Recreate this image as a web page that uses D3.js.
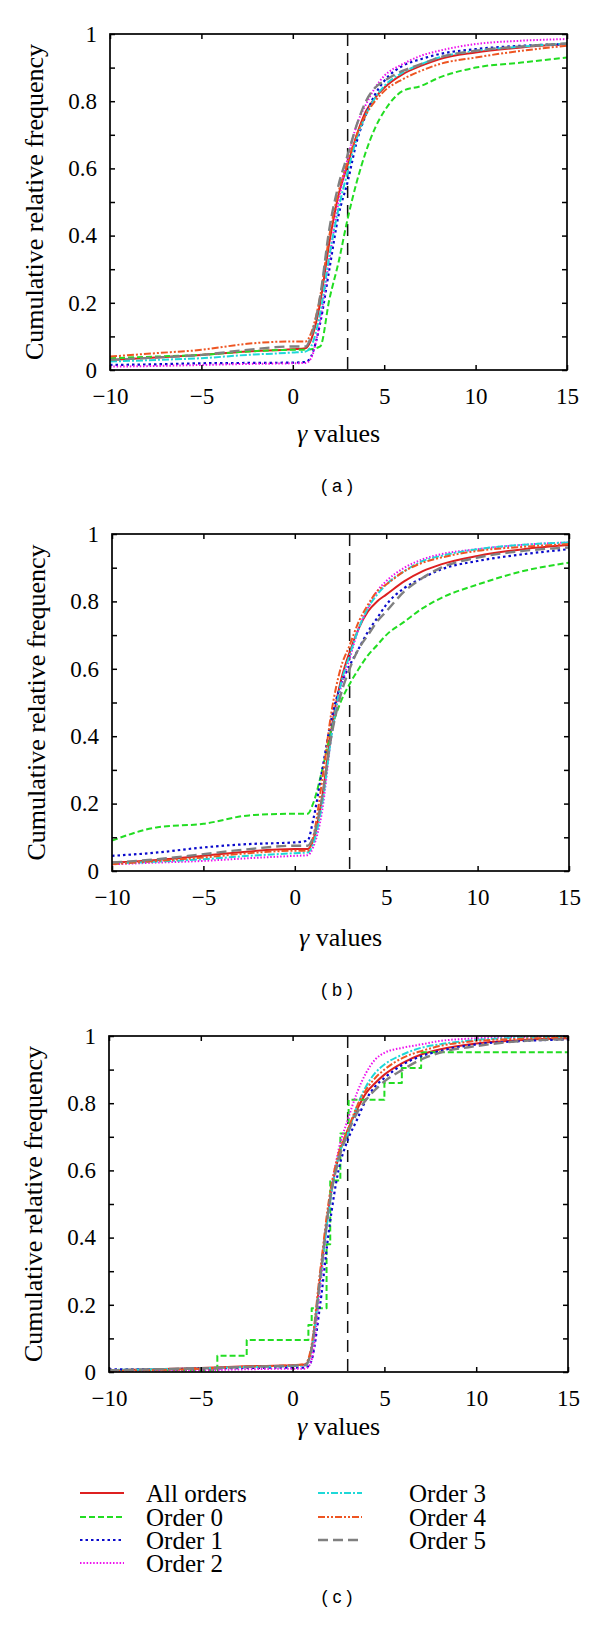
<!DOCTYPE html>
<html><head><meta charset="utf-8">
<script src="https://cdn.jsdelivr.net/npm/d3@7"></script>
<style>body{margin:0;background:#fff} svg{display:block}</style>
</head><body><svg id="chart" width="600" height="1627"></svg>
<script>
// ---------- DATA ----------
const seriesNames = ["All orders", "Order 0", "Order 1", "Order 2", "Order 3", "Order 4", "Order 5"];
const gammaGrid = [-10, -7.5, -5, -2.5, 0, 0.7, 1, 1.5, 2, 2.5, 3, 3.5, 4, 4.5, 5, 6, 7, 8, 10, 12.5, 15];
const xTicks = [-10, -5, 0, 5, 10, 15];
const yTicks = [0, 0.1, 0.2, 0.3, 0.4, 0.5, 0.6, 0.7, 0.8, 0.9, 1];
const yTickLabels = ["0", "", "0.2", "", "0.4", "", "0.6", "", "0.8", "", "1"];
const thresholdGamma = 3;
const panelCaptions = ["( a )", "( b )", "( c )"];

// panel (a)
const a_all = [0.03, 0.037, 0.045, 0.055, 0.062, 0.065, 0.09, 0.2, 0.38, 0.52, 0.61, 0.7, 0.77, 0.81, 0.84, 0.88, 0.905, 0.925, 0.945, 0.96, 0.97];
const a_o0  = [0.035, 0.04, 0.045, 0.055, 0.06, 0.06, 0.062, 0.07, 0.21, 0.32, 0.45, 0.56, 0.65, 0.72, 0.77, 0.83, 0.845, 0.87, 0.9, 0.915, 0.93];
const a_o1  = [0.015, 0.017, 0.02, 0.021, 0.022, 0.024, 0.04, 0.14, 0.3, 0.46, 0.56, 0.68, 0.76, 0.82, 0.86, 0.905, 0.925, 0.94, 0.955, 0.965, 0.97];
const a_o2  = [0.01, 0.012, 0.015, 0.018, 0.02, 0.021, 0.035, 0.15, 0.33, 0.5, 0.63, 0.73, 0.79, 0.84, 0.875, 0.91, 0.935, 0.95, 0.97, 0.98, 0.985];
const a_o3  = [0.025, 0.03, 0.035, 0.045, 0.052, 0.055, 0.07, 0.17, 0.34, 0.48, 0.59, 0.69, 0.76, 0.81, 0.845, 0.885, 0.91, 0.93, 0.95, 0.962, 0.972];
const a_o4  = [0.04, 0.05, 0.06, 0.078, 0.085, 0.085, 0.11, 0.22, 0.4, 0.53, 0.62, 0.7, 0.76, 0.8, 0.83, 0.865, 0.89, 0.91, 0.93, 0.95, 0.965];
const a_o5  = [0.03, 0.037, 0.045, 0.06, 0.07, 0.07, 0.1, 0.22, 0.42, 0.55, 0.64, 0.73, 0.8, 0.84, 0.86, 0.89, 0.91, 0.93, 0.95, 0.963, 0.972];

// panel (b)
const b_all = [0.025, 0.033, 0.045, 0.058, 0.065, 0.065, 0.09, 0.22, 0.42, 0.56, 0.65, 0.72, 0.77, 0.8, 0.82, 0.86, 0.89, 0.91, 0.935, 0.955, 0.967];
const b_o0  = [0.09, 0.13, 0.14, 0.165, 0.17, 0.17, 0.2, 0.3, 0.42, 0.5, 0.555, 0.6, 0.64, 0.67, 0.7, 0.74, 0.78, 0.81, 0.85, 0.89, 0.915];
const b_o1  = [0.045, 0.055, 0.07, 0.08, 0.085, 0.09, 0.15, 0.3, 0.45, 0.55, 0.61, 0.66, 0.71, 0.75, 0.79, 0.84, 0.87, 0.895, 0.92, 0.94, 0.955];
const b_o2  = [0.02, 0.025, 0.03, 0.038, 0.045, 0.047, 0.07, 0.18, 0.4, 0.54, 0.63, 0.72, 0.78, 0.83, 0.86, 0.9, 0.925, 0.94, 0.955, 0.968, 0.975];
const b_o3  = [0.022, 0.028, 0.035, 0.045, 0.053, 0.055, 0.08, 0.2, 0.4, 0.55, 0.64, 0.72, 0.78, 0.82, 0.85, 0.89, 0.92, 0.935, 0.955, 0.968, 0.975];
const b_o4  = [0.02, 0.03, 0.04, 0.053, 0.06, 0.06, 0.1, 0.27, 0.47, 0.6, 0.67, 0.74, 0.79, 0.83, 0.85, 0.89, 0.915, 0.93, 0.95, 0.962, 0.97];
const b_o5  = [0.025, 0.035, 0.05, 0.065, 0.075, 0.075, 0.1, 0.22, 0.4, 0.52, 0.6, 0.66, 0.7, 0.74, 0.77, 0.83, 0.87, 0.9, 0.93, 0.95, 0.96];

// panel (c)
const c_all = [0.005, 0.008, 0.012, 0.017, 0.02, 0.022, 0.06, 0.28, 0.5, 0.64, 0.72, 0.78, 0.83, 0.86, 0.885, 0.92, 0.945, 0.96, 0.978, 0.988, 0.993];
const c_o0_gamma = [-10, -4.1, -2.5, 0.86, 1.04, 1.85, 2.05, 2.6, 3.05, 5.0, 5.95, 7.0, 15];
const c_o0_freq  = [0.005, 0.048, 0.095, 0.14, 0.19, 0.38, 0.57, 0.71, 0.81, 0.86, 0.905, 0.952, 0.952];
const c_o1  = [0.008, 0.008, 0.01, 0.012, 0.013, 0.013, 0.03, 0.2, 0.43, 0.6, 0.69, 0.75, 0.81, 0.85, 0.875, 0.915, 0.94, 0.955, 0.975, 0.985, 0.99];
const c_o2  = [0.003, 0.004, 0.005, 0.008, 0.01, 0.01, 0.03, 0.25, 0.5, 0.66, 0.75, 0.83, 0.89, 0.93, 0.95, 0.965, 0.975, 0.985, 0.993, 0.997, 1.0];
const c_o3  = [0.006, 0.008, 0.011, 0.015, 0.018, 0.02, 0.06, 0.27, 0.49, 0.64, 0.71, 0.79, 0.85, 0.89, 0.915, 0.945, 0.965, 0.975, 0.988, 0.995, 0.998];
const c_o4  = [0.004, 0.006, 0.01, 0.016, 0.02, 0.024, 0.07, 0.3, 0.52, 0.65, 0.72, 0.79, 0.84, 0.875, 0.9, 0.935, 0.955, 0.97, 0.985, 0.992, 0.995];
const c_o5  = [0.005, 0.008, 0.011, 0.015, 0.019, 0.021, 0.06, 0.28, 0.5, 0.63, 0.71, 0.77, 0.81, 0.84, 0.865, 0.9, 0.93, 0.95, 0.97, 0.985, 0.99];

// ---------- STYLE / LAYOUT ----------
const styles = [
  {color: "#dd2020", dash: null, width: 2},
  {color: "#22dd22", dash: "6,3", width: 2},
  {color: "#0a0acc", dash: "2.5,3", width: 2.2},
  {color: "#ee10ee", dash: "1.5,1.8", width: 2},
  {color: "#1ed8d8", dash: "7,2,2,2", width: 2},
  {color: "#ee5522", dash: "7,2,2,2,2,2", width: 2},
  {color: "#808080", dash: "10,5", width: 2.4}
];
const serif = "'Liberation Serif', 'Times New Roman', serif";
const sans = "'Liberation Sans', Arial, sans-serif";

const zip = (xs, ys) => xs.map((x, i) => ({x, y: ys[i]}));
const panels = [
  {left: 110, right: 567, top: 34, bottom: 370, titleY: 442, capY: 492,
   series: [a_all, a_o0, a_o1, a_o2, a_o3, a_o4, a_o5].map(v => ({pts: zip(gammaGrid, v), step: false}))},
  {left: 112, right: 569, top: 534, bottom: 871, titleY: 946, capY: 996,
   series: [b_all, b_o0, b_o1, b_o2, b_o3, b_o4, b_o5].map(v => ({pts: zip(gammaGrid, v), step: false}))},
  {left: 109, right: 568, top: 1036, bottom: 1372, titleY: 1435, capY: 1603,
   series: [
     {pts: zip(gammaGrid, c_all), step: false},
     {pts: zip(c_o0_gamma, c_o0_freq), step: true},
     {pts: zip(gammaGrid, c_o1), step: false},
     {pts: zip(gammaGrid, c_o2), step: false},
     {pts: zip(gammaGrid, c_o3), step: false},
     {pts: zip(gammaGrid, c_o4), step: false},
     {pts: zip(gammaGrid, c_o5), step: false}
   ]}
];

const svg = d3.select("#chart");
svg.append("rect").attr("width", 600).attr("height", 1627).attr("fill", "#fff");

const fmtX = d => d < 0 ? "\u2212" + Math.abs(d) : String(d);

panels.forEach((p, pi) => {
  const x = d3.scaleLinear().domain([-10, 15]).range([p.left, p.right]);
  const y = d3.scaleLinear().domain([0, 1]).range([p.bottom, p.top]);
  const g = svg.append("g");

  const clipId = "clip" + pi;
  svg.append("clipPath").attr("id", clipId).append("rect")
    .attr("x", p.left).attr("y", p.top - 2).attr("width", p.right - p.left).attr("height", p.bottom - p.top + 2);

  // threshold line
  g.append("line")
    .attr("x1", x(thresholdGamma)).attr("x2", x(thresholdGamma))
    .attr("y1", y(1)).attr("y2", y(0))
    .attr("stroke", "#111").attr("stroke-width", 1.5).attr("stroke-dasharray", "12,7");

  const lines = g.append("g").attr("clip-path", `url(#${clipId})`);
  p.series.forEach((s, si) => {
    const st = styles[si];
    const line = d3.line().x(d => x(d.x)).y(d => y(d.y))
      .curve(s.step ? d3.curveStepAfter : d3.curveMonotoneX);
    lines.append("path").datum(s.pts)
      .attr("d", line)
      .attr("fill", "none")
      .attr("stroke", st.color)
      .attr("stroke-width", st.width)
      .attr("stroke-dasharray", st.dash)
      .attr("stroke-linejoin", "round");
  });

  // axes with inward ticks
  const axB = d3.axisBottom(x).tickValues(xTicks).tickSizeInner(-5).tickSizeOuter(0).tickPadding(18).tickFormat(fmtX);
  const axT = d3.axisTop(x).tickValues(xTicks).tickSizeInner(-5).tickSizeOuter(0).tickFormat("");
  const axL = d3.axisLeft(y).tickValues(yTicks).tickSizeInner(-5).tickSizeOuter(0).tickPadding(13)
    .tickFormat((d, i) => yTickLabels[i]);
  const axR = d3.axisRight(y).tickValues(yTicks).tickSizeInner(-5).tickSizeOuter(0).tickFormat("");

  const gb = g.append("g").attr("transform", `translate(0,${p.bottom})`).call(axB);
  const gt = g.append("g").attr("transform", `translate(0,${p.top})`).call(axT);
  const gl = g.append("g").attr("transform", `translate(${p.left},0)`).call(axL);
  const gr = g.append("g").attr("transform", `translate(${p.right},0)`).call(axR);
  [gb, gt, gl, gr].forEach(a => {
    a.attr("font-family", serif);
    a.select(".domain").remove();
    a.selectAll(".tick line").attr("stroke", "#000").attr("stroke-width", 1.5);
    a.selectAll("text").attr("font-family", serif).attr("font-size", 23).attr("fill", "#000");
  });

  // frame
  g.append("rect").attr("x", p.left).attr("y", p.top)
    .attr("width", p.right - p.left).attr("height", p.bottom - p.top)
    .attr("fill", "none").attr("stroke", "#000").attr("stroke-width", 1.7);

  // y title
  g.append("text")
    .attr("transform", `translate(${p.left - 67},${(p.top + p.bottom) / 2}) rotate(-90)`)
    .attr("text-anchor", "middle")
    .attr("font-family", serif).attr("font-size", 26)
    .text("Cumulative relative frequency");

  // x title
  const xt = g.append("text")
    .attr("x", (p.left + p.right) / 2).attr("y", p.titleY)
    .attr("text-anchor", "middle")
    .attr("font-family", serif).attr("font-size", 26);
  xt.append("tspan").attr("font-style", "italic").text("\u03B3");
  xt.append("tspan").text(" values");

  // caption
  g.append("text").attr("x", 337).attr("y", p.capY)
    .attr("text-anchor", "middle").attr("font-family", sans).attr("font-size", 18)
    .attr("xml:space", "preserve")
    .text(panelCaptions[pi]);
});

// legend
const legendPos = [
  {lx: 80, tx: 146, y: 1493}, {lx: 80, tx: 146, y: 1517}, {lx: 80, tx: 146, y: 1540}, {lx: 80, tx: 146, y: 1563},
  {lx: 318, tx: 409, y: 1493}, {lx: 318, tx: 409, y: 1517}, {lx: 318, tx: 409, y: 1540}
];
const lg = svg.append("g");
seriesNames.forEach((name, i) => {
  const pos = legendPos[i], st = styles[i];
  lg.append("line").attr("x1", pos.lx).attr("x2", pos.lx + 44).attr("y1", pos.y).attr("y2", pos.y)
    .attr("stroke", st.color).attr("stroke-width", st.width).attr("stroke-dasharray", st.dash);
  lg.append("text").attr("x", pos.tx).attr("y", pos.y + 9)
    .attr("font-family", serif).attr("font-size", 25).text(name);
});
</script>
</body></html>
